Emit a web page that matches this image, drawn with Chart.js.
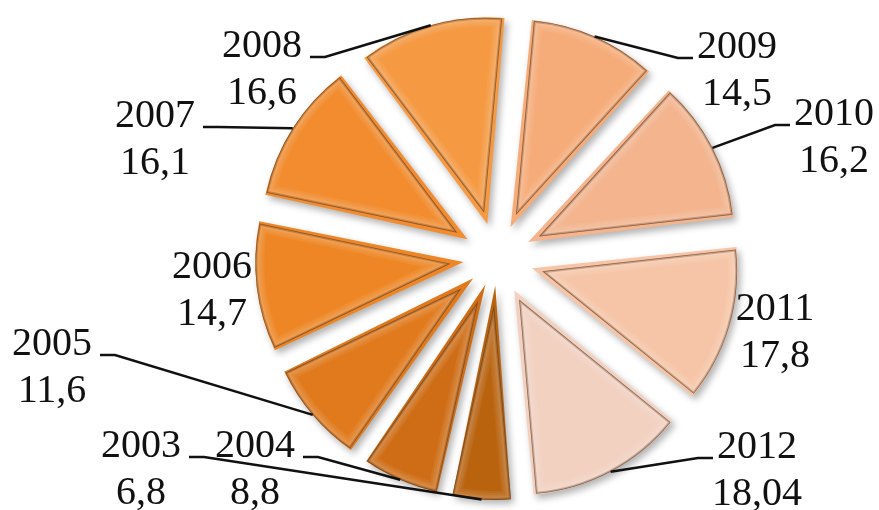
<!DOCTYPE html>
<html lang="en">
<head>
  <meta charset="UTF-8">
  <title>Pie 2003-2012</title>
  <script src="https://cdn.jsdelivr.net/npm/chart.js"></script>
  <style>
    html, body { margin: 0; padding: 0; background: #fff; }
    #wrap { width: 879px; height: 510px; position: relative; }
  </style>
</head>
<body>
<div id="wrap"><canvas id="pieChart"></canvas></div>

<script>
  // data
  const years = ["2003", "2004", "2005", "2006", "2007", "2008", "2009", "2010", "2011", "2012"];
  const values = [6.8, 8.8, 11.6, 14.7, 16.1, 16.6, 14.5, 16.2, 17.8, 18.04];
  const valueLabels = ["6,8", "8,8", "11,6", "14,7", "16,1", "16,6", "14,5", "16,2", "17,8", "18,04"];

  const sliceColors = ["#b9630f", "#cf6d16", "#e17a1c", "#ee8625", "#f28c2e", "#f59a42",
                       "#f6ac78", "#f3b48e", "#f6c5a7", "#f2d1c1"];

  // label placement: centre x, baseline of first line, leader line or not
  const labelLayout = [
    { x: 141, y: 457, leader: true },
    { x: 255, y: 457, leader: true },
    { x: 52,  y: 355, leader: true },
    { x: 212, y: 278, leader: false },
    { x: 155, y: 127, leader: true },
    { x: 262, y: 57,  leader: true },
    { x: 737, y: 58,  leader: true },
    { x: 834, y: 125, leader: true },
    { x: 775, y: 320, leader: false },
    { x: 757, y: 458, leader: true }
  ];

  const GAP = 47;      // how far every slice is pulled out
  const total = values.reduce((a, b) => a + b, 0);

  // Chart.js v4 moves a slice by offset/4 * (2 - sin(circ)), so invert that
  function sliceOffset(ctx) {
    const circ = ctx.parsed / total * Math.PI * 2;
    return 4 * GAP / (2 - Math.sin(Math.min(Math.PI, circ)));
  }

  function shiftOf(arc) {
    const off = (arc.options.offset || 0) / 4;
    const circ = arc.endAngle - arc.startAngle;
    const fix = 1 - Math.sin(Math.min(Math.PI, circ));
    const d = off + off * fix;
    const half = (arc.startAngle + arc.endAngle) / 2;
    return { dx: Math.cos(half) * d, dy: Math.sin(half) * d, half };
  }

  const shadowPlugin = {
    id: "sliceShadow",
    beforeDatasetsDraw(chart) {
      const ctx = chart.ctx;
      ctx.save();
      ctx.shadowColor = "rgba(0,0,0,0.3)";
      ctx.shadowBlur = 7;
      ctx.shadowOffsetX = 3;
      ctx.shadowOffsetY = 4;
    },
    afterDatasetsDraw(chart) {
      const ctx = chart.ctx;
      ctx.restore();
      // soft bevel: light ramp inside the edge and a dark outline
      chart.getDatasetMeta(0).data.forEach(arc => {
        const s = shiftOf(arc);
        const cx = arc.x + s.dx, cy = arc.y + s.dy;
        ctx.save();
        ctx.beginPath();
        ctx.arc(cx, cy, arc.outerRadius, arc.startAngle, arc.endAngle);
        ctx.lineTo(cx, cy);
        ctx.closePath();
        ctx.clip();
        ctx.lineJoin = "round";
        ctx.strokeStyle = "rgba(255,255,255,0.06)";
        for (const w of [18, 14, 10, 7]) {
          ctx.lineWidth = w;
          ctx.stroke();
        }
        ctx.strokeStyle = "rgba(80,35,5,0.25)";
        ctx.lineWidth = 4;
        ctx.stroke();
        ctx.strokeStyle = "rgba(80,35,5,0.5)";
        ctx.lineWidth = 1.5;
        ctx.stroke();
        ctx.restore();
      });
    }
  };

  const labelPlugin = {
    id: "sliceLabels",
    afterDraw(chart) {
      const ctx = chart.ctx;
      const arcs = chart.getDatasetMeta(0).data;
      ctx.save();
      ctx.font = "40px 'Liberation Serif', 'Times New Roman', serif";
      ctx.fillStyle = "#111";
      ctx.textAlign = "center";
      ctx.textBaseline = "alphabetic";
      arcs.forEach((arc, i) => {
        const lay = labelLayout[i];
        ctx.fillText(years[i], lay.x, lay.y);
        ctx.fillText(valueLabels[i], lay.x, lay.y + 47);
        if (!lay.leader) return;
        const s = shiftOf(arc);
        const ax = arc.x + s.dx + Math.cos(s.half) * arc.outerRadius;
        const ay = arc.y + s.dy + Math.sin(s.half) * arc.outerRadius;
        const w = ctx.measureText(years[i]).width;
        const left = lay.x < arc.x;
        const x0 = left ? lay.x + w / 2 + 8 : lay.x - w / 2 - 4;
        const x1 = left ? x0 + 15 : x0 - 15;
        ctx.beginPath();
        ctx.moveTo(x0, lay.y);
        ctx.lineTo(x1, lay.y);
        ctx.lineTo(ax, ay);
        ctx.strokeStyle = "#111";
        ctx.lineWidth = 2.5;
        ctx.stroke();
      });
      ctx.restore();
    }
  };

  new Chart(document.getElementById("pieChart"), {
    type: "pie",
    data: {
      labels: years,
      datasets: [{
        data: values,
        backgroundColor: sliceColors,
        borderWidth: 0,
        offset: sliceOffset
      }]
    },
    options: {
      responsive: true,
      maintainAspectRatio: false,
      animation: false,
      rotation: 175,
      radius: 195,
      layout: { padding: { left: 115, top: 6, right: 0, bottom: 0 } },
      plugins: {
        legend: { display: false },
        tooltip: { enabled: false }
      }
    },
    plugins: [shadowPlugin, labelPlugin]
  });
</script>
</body>
</html>
